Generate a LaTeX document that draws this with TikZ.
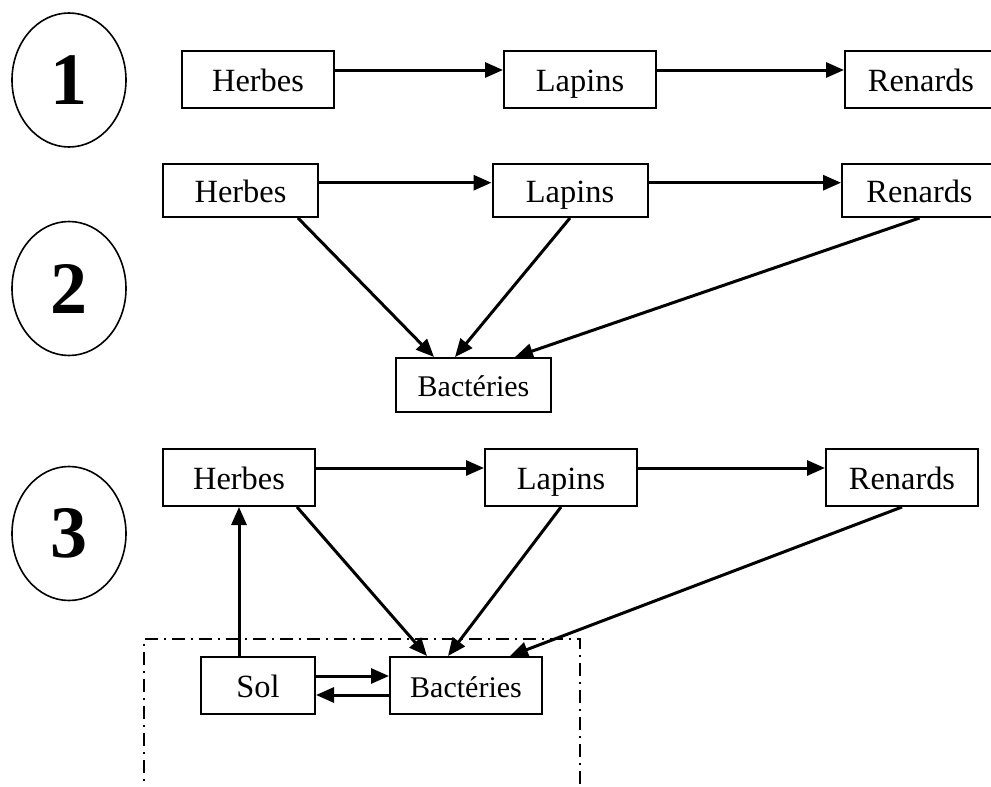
\documentclass[tikz,border=0pt]{standalone}
\usepackage{fontspec}
\setmainfont{Liberation Serif}
\usetikzlibrary{arrows.meta,shapes.geometric}

\tikzset{
  box/.style={draw, line width=1pt, inner sep=0pt, minimum width=76pt, minimum height=28.5pt, text height=11.5pt, text depth=0pt, font=\fontsize{16.2}{18}\selectfont},
  flow/.style={line width=1.5pt, -{Triangle[length=9pt,width=7.5pt]}},
  num/.style={draw, ellipse, line width=0.8pt, inner sep=0pt, minimum width=57pt, minimum height=67pt, font=\fontsize{37}{40}\selectfont\bfseries},
  zone/.style={line width=1pt, dash pattern=on 6.5pt off 3pt on 1pt off 3pt}
}

\begin{document}
\begin{tikzpicture}[x=0.5pt,y=-0.5pt]
\useasboundingbox (0,0) rectangle (991,787);
\clip (0,0) rectangle (991,787);

% chain 1
\node[num] (n1) at (69,80) {1};
\node[box] (h1) at (258,79.5) {Herbes};
\node[box] (l1) at (580,79.5) {Lapins};
\node[box] (r1) at (921,79.5) {Renards};

\draw[flow] ([yshift=4.75pt]h1.east) -- ([yshift=4.75pt]l1.west);
\draw[flow] ([yshift=4.75pt]l1.east) -- ([yshift=4.75pt]r1.west);

% chain 2
\node[num] (n2) at (69,288.5) {2};
\node[box, minimum width=77.5pt, minimum height=26.5pt] (h2) at (240.5,190.5) {Herbes};
\node[box, minimum width=77.5pt, minimum height=26.5pt] (l2) at (570,190.5) {Lapins};
\node[box, minimum width=77.5pt, minimum height=26.5pt] (r2) at (919.5,190.5) {Renards};
\node[box, minimum width=77.5pt, minimum height=27pt, font=\fontsize{15}{17}\selectfont] (b2) at (473.5,385) {Bactéries};

\draw[flow] ([yshift=3.9pt]h2.east) -- ([yshift=3.9pt]l2.west);
\draw[flow] ([yshift=3.9pt]l2.east) -- ([yshift=3.9pt]r2.west);
\draw[flow] ([xshift=28.75pt]h2.south) -- ([xshift=-19.75pt]b2.north);
\draw[flow] (l2.south) -- ([xshift=-9.25pt]b2.north);
\draw[flow] (r2.south) -- ([xshift=20.75pt]b2.north);

% chain 3
\node[num] (n3) at (69,533.5) {3};
\node[box] (h3) at (239,477.5) {Herbes};
\node[box] (l3) at (561,477.5) {Lapins};
\node[box] (r3) at (902,477.5) {Renards};
\node[box, minimum width=57pt] (sol) at (258,685.5) {Sol};
\node[box, font=\fontsize{15}{17}\selectfont] (b3) at (466,685.5) {Bactéries};

\draw[flow] ([yshift=4.75pt]h3.east) -- ([yshift=4.75pt]l3.west);
\draw[flow] ([yshift=4.75pt]l3.east) -- ([yshift=4.75pt]r3.west);
\draw[flow] ([xshift=29pt]h3.south) -- ([xshift=-19.5pt]b3.north);
\draw[flow] (l3.south) -- ([xshift=-9pt]b3.north);
\draw[flow] (r3.south) -- ([xshift=22pt]b3.north);
\draw[flow] ([xshift=-9.5pt]sol.north) -- (h3.south);
\draw[flow] ([yshift=4.75pt]sol.east) -- ([yshift=4.75pt]b3.west);
\draw[flow] ([yshift=-4.75pt]b3.west) -- ([yshift=-4.75pt]sol.east);

\draw[zone] (144,800) -- (144,639) -- (580,639) -- (580,800);

\end{tikzpicture}
\end{document}
